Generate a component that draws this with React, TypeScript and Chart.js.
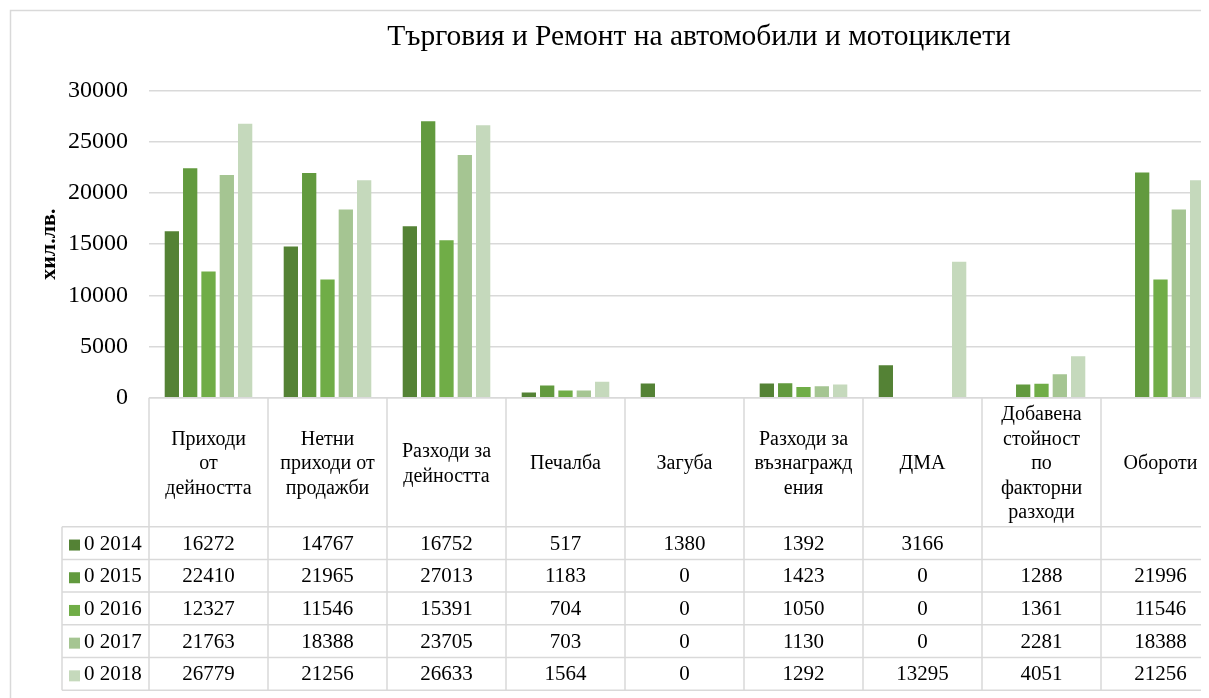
import React, { useEffect, useRef } from 'react';
import { Chart, registerables } from 'chart.js';

Chart.register(...registerables);

const chartTitle = 'Търговия и Ремонт на автомобили и мотоциклети';
const yAxisTitle = 'хил.лв.';

const categories: string[][] = [
  ['Приходи', 'от', 'дейността'],
  ['Нетни', 'приходи от', 'продажби'],
  ['Разходи за', 'дейността'],
  ['Печалба'],
  ['Загуба'],
  ['Разходи за', 'възнагражд', 'ения'],
  ['ДМА'],
  ['Добавена', 'стойност', 'по', 'факторни', 'разходи'],
  ['Обороти'],
];

const seriesNames = ['0 2014', '0 2015', '0 2016', '0 2017', '0 2018'];

const values2014 = [16272, 14767, 16752, 517, 1380, 1392, 3166, null, null];
const values2015 = [22410, 21965, 27013, 1183, 0, 1423, 0, 1288, 21996];
const values2016 = [12327, 11546, 15391, 704, 0, 1050, 0, 1361, 11546];
const values2017 = [21763, 18388, 23705, 703, 0, 1130, 0, 2281, 18388];
const values2018 = [26779, 21256, 26633, 1564, 0, 1292, 13295, 4051, 21256];

const seriesColors = ['#548235', '#629A3E', '#70AD47', '#A5C592', '#C5D9BC'];

const yMin = 0;
const yMax = 30000;
const yStep = 5000;

const seriesValues = [values2014, values2015, values2016, values2017, values2018];

const FONT = "'Liberation Serif', 'Times New Roman', serif";
const GRID = '#d9d9d9';
const TEXT = '#000000';

const CANVAS_W = 1240;
const CANVAS_H = 700;

const tablePlugin = {
  id: 'dataTableAndFrame',
  beforeDraw(chart: any) {
    const ctx = chart.ctx;
    ctx.save();
    ctx.fillStyle = '#ffffff';
    ctx.fillRect(0, 0, chart.width, chart.height);
    ctx.strokeStyle = GRID;
    ctx.lineWidth = 1.5;
    ctx.strokeRect(2.5, 2.5, chart.width + 20, chart.height + 20);
    ctx.restore();
  },
  afterDraw(chart: any) {
    const ctx = chart.ctx;
    const area = chart.chartArea;
    const xs = chart.scales.x;
    const n = categories.length;
    const cw = (area.right - area.left) / n;
    const top = area.bottom;
    const headerH = 129;
    const rowH = 32.7;
    const legendLeft = 54;
    const bottom = top + headerH + rowH * seriesNames.length;

    ctx.save();
    // title
    ctx.fillStyle = TEXT;
    ctx.font = `29.5px ${FONT}`;
    ctx.textAlign = 'center';
    ctx.textBaseline = 'alphabetic';
    ctx.fillText(chartTitle, 691, 37);

    // table lines
    ctx.strokeStyle = GRID;
    ctx.lineWidth = 1.5;
    const line = (x1: number, y1: number, x2: number, y2: number) => {
      ctx.beginPath();
      ctx.moveTo(x1, y1);
      ctx.lineTo(x2, y2);
      ctx.stroke();
    };
    line(area.left, top, area.left + n * cw, top);
    for (let r = 0; r <= seriesNames.length; r++) {
      const y = top + headerH + r * rowH;
      line(legendLeft, y, area.left + n * cw, y);
    }
    for (let i = 0; i <= n; i++) {
      const x = area.left + i * cw;
      line(x, top, x, bottom);
    }
    line(legendLeft, top + headerH, legendLeft, bottom);

    // header text
    ctx.fillStyle = TEXT;
    ctx.font = `20px ${FONT}`;
    ctx.textAlign = 'center';
    ctx.textBaseline = 'middle';
    const lh = 24.5;
    categories.forEach((lines, i) => {
      const cx = xs.getPixelForValue(i);
      const cy = top + headerH / 2 + 2;
      const start = cy - ((lines.length - 1) * lh) / 2;
      lines.forEach((t, k) => ctx.fillText(t, cx, start + k * lh));
    });

    // values
    ctx.font = `21px ${FONT}`;
    seriesValues.forEach((vals, d) => {
      const cy = top + headerH + d * rowH + rowH / 2 + 1;
      vals.forEach((v, i) => {
        if (v === null || v === undefined) return;
        ctx.fillText(String(v), xs.getPixelForValue(i), cy);
      });
      // legend
      ctx.fillStyle = seriesColors[d];
      ctx.fillRect(61, cy - 4.5, 11, 11);
      ctx.fillStyle = TEXT;
      ctx.textAlign = 'left';
      ctx.fillText(seriesNames[d], 76, cy);
      ctx.textAlign = 'center';
    });
    ctx.restore();
  },
};

export default function App() {
  const ref = useRef<HTMLCanvasElement | null>(null);

  useEffect(() => {
    document.documentElement.style.overflow = 'hidden';
    const canvas = ref.current;
    if (!canvas) return;
    const chart = new Chart(canvas, {
      type: 'bar',
      data: {
        labels: categories,
        datasets: seriesNames.map((name, d) => ({
          label: name,
          data: seriesValues[d],
          backgroundColor: seriesColors[d],
          borderWidth: 0,
          categoryPercentage: 0.77,
          barPercentage: 0.78,
        })),
      },
      options: {
        responsive: false,
        animation: false,
        devicePixelRatio: 1,
        layout: { padding: { left: 0, right: 28, top: 82.7, bottom: 310.3 } },
        plugins: {
          legend: { display: false },
          title: { display: false },
          tooltip: { enabled: false },
        },
        scales: {
          x: {
            display: false,
          },
          y: {
            min: yMin,
            max: yMax,
            ticks: {
              stepSize: yStep,
              padding: 21,
              color: TEXT,
              font: { family: FONT, size: 24 },
              callback: (v: any) => String(v),
            },
            grid: { color: GRID, lineWidth: 1.5, drawTicks: false },
            border: { display: false },
            title: {
              display: true,
              text: yAxisTitle,
              color: TEXT,
              font: { family: FONT, size: 22, weight: 'bold' },
              padding: { top: 28, bottom: 0 },
            },
            afterFit(scale: any) {
              scale.width = 141;
            },
          },
        },
      },
      plugins: [tablePlugin],
    } as any);
    return () => chart.destroy();
  }, []);

  return (
    <div style={{ width: 1201, height: 690, overflow: 'hidden' }}>
      <canvas ref={ref} width={CANVAS_W} height={CANVAS_H} style={{ display: 'block', width: CANVAS_W, height: CANVAS_H }} />
    </div>
  );
}
